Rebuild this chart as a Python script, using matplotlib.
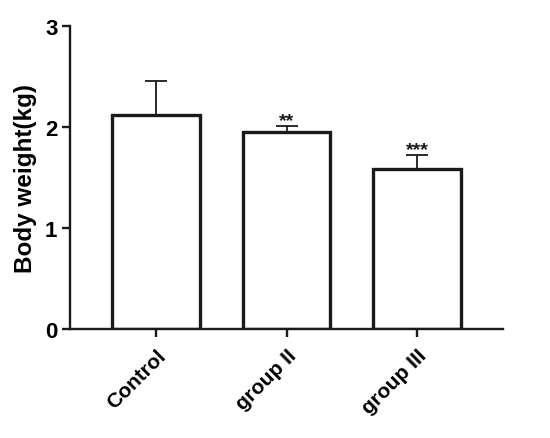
import numpy as np
import matplotlib.pyplot as plt

plt.rcParams['font.family'] = ['Liberation Sans', 'DejaVu Sans']

# data
groups = ['Control', 'group II', 'group III']
means = [2.12, 1.945, 1.58]
sems = [0.33, 0.065, 0.14]
stars = ['', '**', '***']

fig = plt.figure(figsize=(5.5, 4.39), dpi=100)
ax = fig.add_axes([70 / 550, 1 - 330 / 439, (503 - 70) / 550, (330 - 26.7) / 439])

x = np.arange(len(groups))
ax.bar(x, means, width=0.67, color='white', edgecolor='#1a1a1a', linewidth=2.4, zorder=2)
ax.errorbar(x, means, yerr=[np.zeros(len(sems)), sems], fmt='none', ecolor='#1a1a1a',
            elinewidth=1.3, capsize=8, capthick=1.3, zorder=1)

# significance marks
for xi, m, s, st in zip(x, means, sems, stars):
    if st:
        ax.text(xi, m + s - 0.03, st, ha='center', va='bottom', fontsize=14,
                fontweight='bold', color='#1a1a1a')

ax.set_xlim(-0.66, 2.66)
ax.set_ylim(0, 3)
ax.set_yticks([0, 1, 2, 3])
ax.set_xticks(x)
ax.set_xticklabels(groups, rotation=45, ha='right', rotation_mode='anchor',
                   fontsize=15, fontweight='bold')
for lab in ax.get_yticklabels():
    lab.set_fontsize(16)
    lab.set_fontweight('bold')
ax.set_ylabel('Body weight(kg)', fontsize=17.5, fontweight='bold', labelpad=6)

for side in ['top', 'right']:
    ax.spines[side].set_visible(False)
for side in ['left', 'bottom']:
    ax.spines[side].set_linewidth(1.7)
    ax.spines[side].set_color('#1a1a1a')
ax.tick_params(width=1.7, length=6, color='#1a1a1a', pad=3)
ax.tick_params(axis='x', pad=6)

fig.savefig('out.png', dpi=100)
